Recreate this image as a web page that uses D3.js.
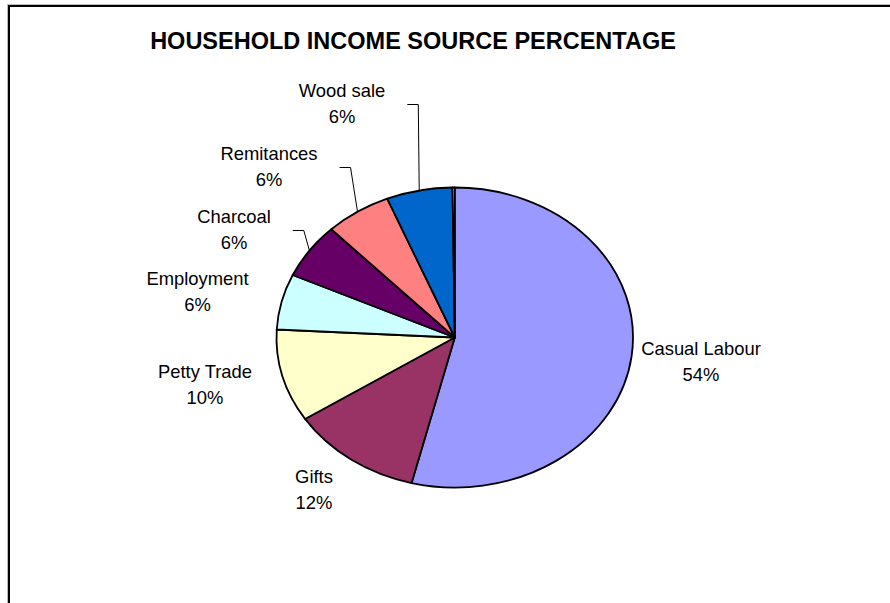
<!DOCTYPE html>
<html><head><meta charset="utf-8">
<script src="https://cdn.jsdelivr.net/npm/d3@7"></script>
<style>
html,body{margin:0;padding:0;background:#fff;}
svg{display:block;}
text{font-family:"Liberation Sans",Arial,sans-serif;fill:#000;}
</style></head>
<body>
<svg id="chart" width="890" height="603"></svg>
<script>
// ---- data ----
const categories = ["Casual Labour","Gifts","Petty Trade","Employment","Charcoal","Remitances","Wood sale","Other"];
const values     = [54, 12, 10, 6, 6, 6, 6, 0.2];
const title = "HOUSEHOLD INCOME SOURCE PERCENTAGE";

// ---- styles / layout (not data) ----
const colors = ["#9999FF","#993366","#FFFFCC","#CCFFFF","#660066","#FF8080","#0066CC","#FFFFFF"];
// label anchor (centre x, first baseline y) for each labelled slice
const labelAnchors = [[701,355],[314,483],[205,378],[197.5,285],[234,223],[269,160],[342,97]];
const withLeader = [false,false,false,false,true,true,true];

const W = 890, H = 603;
const cx = 454.75, cy = 337.5, rx = 178.25, ry = 150;
const svg = d3.select("#chart");

// frame
svg.append("line").attr("x1",8).attr("y1",4.5).attr("x2",W).attr("y2",4.5).attr("stroke","#bbb").attr("stroke-width",1);
svg.append("line").attr("x1",7.5).attr("y1",4).attr("x2",7.5).attr("y2",H).attr("stroke","#bbb").attr("stroke-width",1);
svg.append("rect").attr("x",9).attr("y",6).attr("width",2000).attr("height",2000)
  .attr("fill","none").attr("stroke","#000").attr("stroke-width",2);

svg.append("text").attr("x",413).attr("y",49).attr("text-anchor","middle")
  .style("font-weight","bold").style("font-size","23.5px").text(title);

const total = d3.sum(values);
const pie = d3.pie().sort(null).value(d => d)(values);
const arc = d3.arc().innerRadius(0).outerRadius(ry);

const g = svg.append("g").attr("transform",`translate(${cx},${cy}) scale(${rx/ry},1)`);
g.selectAll("path").data(pie).join("path")
  .attr("d",arc)
  .attr("fill",(d,i)=>colors[i])
  .attr("stroke","#000").attr("stroke-width",1.8)
  .attr("vector-effect","non-scaling-stroke")
  .attr("stroke-linejoin","round");

const fs = 18.4, lh = 25.5;
pie.forEach((d,i) => {
  if (i >= labelAnchors.length) return;
  const [lx,ly] = labelAnchors[i];
  const pct = Math.round(d.value/total*100) + "%";
  const t = svg.append("text").attr("text-anchor","middle").style("font-size",fs+"px");
  t.append("tspan").attr("x",lx).attr("y",ly).text(categories[i]);
  t.append("tspan").attr("x",lx).attr("y",ly+lh).text(pct);
  if (withLeader[i]) {
    const bb = t.node().getBBox();
    const mid = (d.startAngle + d.endAngle)/2;
    const px = cx + rx*Math.sin(mid), py = cy - ry*Math.cos(mid);
    const sx = bb.x + bb.width + 22, sy = ly + 7.5;
    svg.append("polyline")
      .attr("points", [[sx,sy],[sx+11,sy],[px,py]].map(p=>p.join(",")).join(" "))
      .attr("fill","none").attr("stroke","#000").attr("stroke-width",1);
  }
});
</script>
</body></html>
